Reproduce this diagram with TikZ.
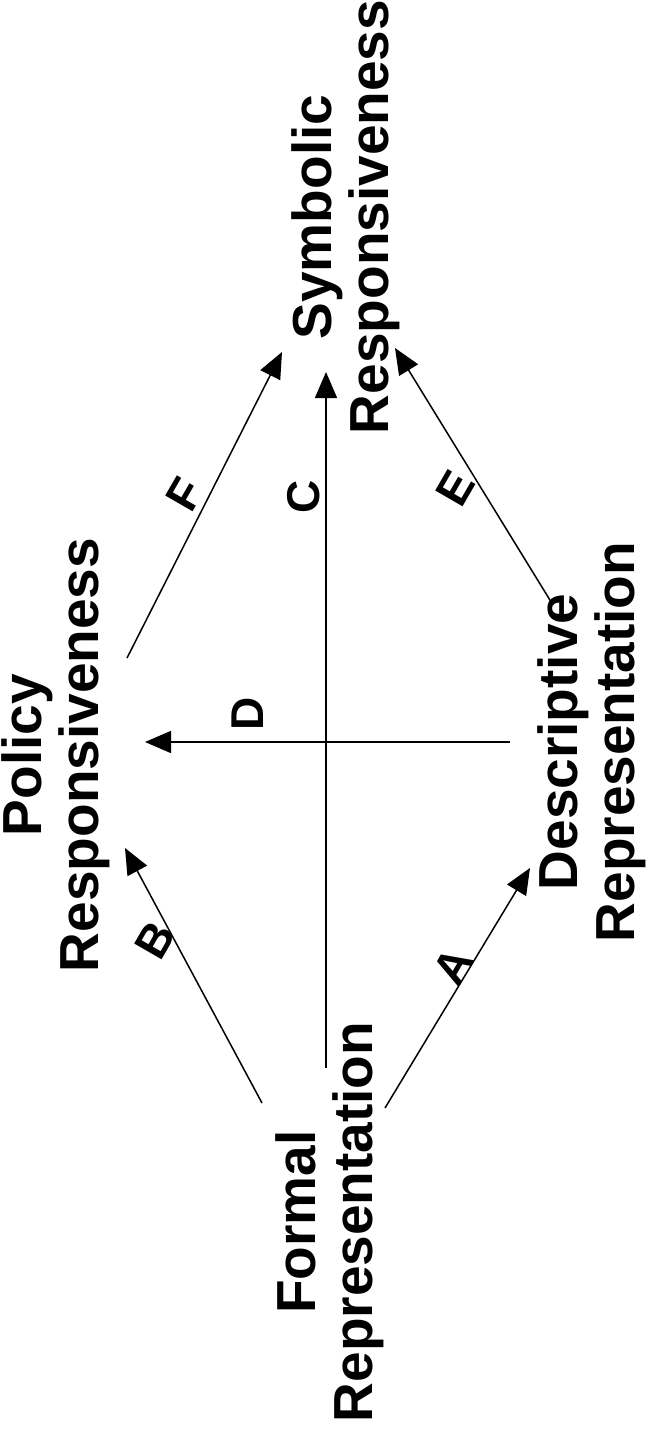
\documentclass[tikz,border=0pt]{standalone}
\usepackage{fontspec}
\setmainfont{Liberation Sans}
\usetikzlibrary{arrows.meta}
\begin{document}
\begin{tikzpicture}[x=1pt,y=-1pt,
  concept/.style={rotate=90,align=center,inner sep=0pt,font=\fontsize{55}{57}\selectfont\bfseries},
  lbl/.style={inner sep=0pt,font=\fontsize{46}{46}\selectfont\bfseries},
  link/.style={line width=1.5pt,-{Triangle[length=26pt,width=22pt]}}]
\useasboundingbox (0,0) rectangle (666,1433);
\node[concept] (policy) at (56,755) {Policy\\Responsiveness};
\node[concept] (formal) at (330,1222) {Formal\\Representation};
\node[concept] (desc) at (592,742) {Descriptive\\Representation};
\node[concept] (symb) at (346,217) {Symbolic\\Responsiveness};
% connector ends
\coordinate (a1) at (385,1108); \coordinate (a2) at (530,868);
\coordinate (b1) at (262,1103); \coordinate (b2) at (125,848);
\coordinate (c1) at (326,1068); \coordinate (c2) at (326,372);
\coordinate (d1) at (510,742);  \coordinate (d2) at (145,742);
\coordinate (e1) at (553,605);  \coordinate (e2) at (395,348);
\coordinate (f1) at (127,658);  \coordinate (f2) at (282,352);
\draw[link] (a1) -- (a2);
\draw[link] (b1) -- (b2);
\draw[link] (c1) -- (c2);
\draw[link] (d1) -- (d2);
\draw[link] (e1) -- (e2);
\draw[link] (f1) -- (f2);
\node[lbl,rotate=60] (la) at (453,966) {A};
\node[lbl,rotate=60] (lb) at (155,940) {B};
\node[lbl,rotate=90] (lc) at (304,497) {C};
\node[lbl,rotate=90] (ld) at (248,714) {D};
\node[lbl,rotate=60] (le) at (455,488) {E};
\node[lbl,rotate=60] (lf) at (185,494) {F};
\end{tikzpicture}
\end{document}
